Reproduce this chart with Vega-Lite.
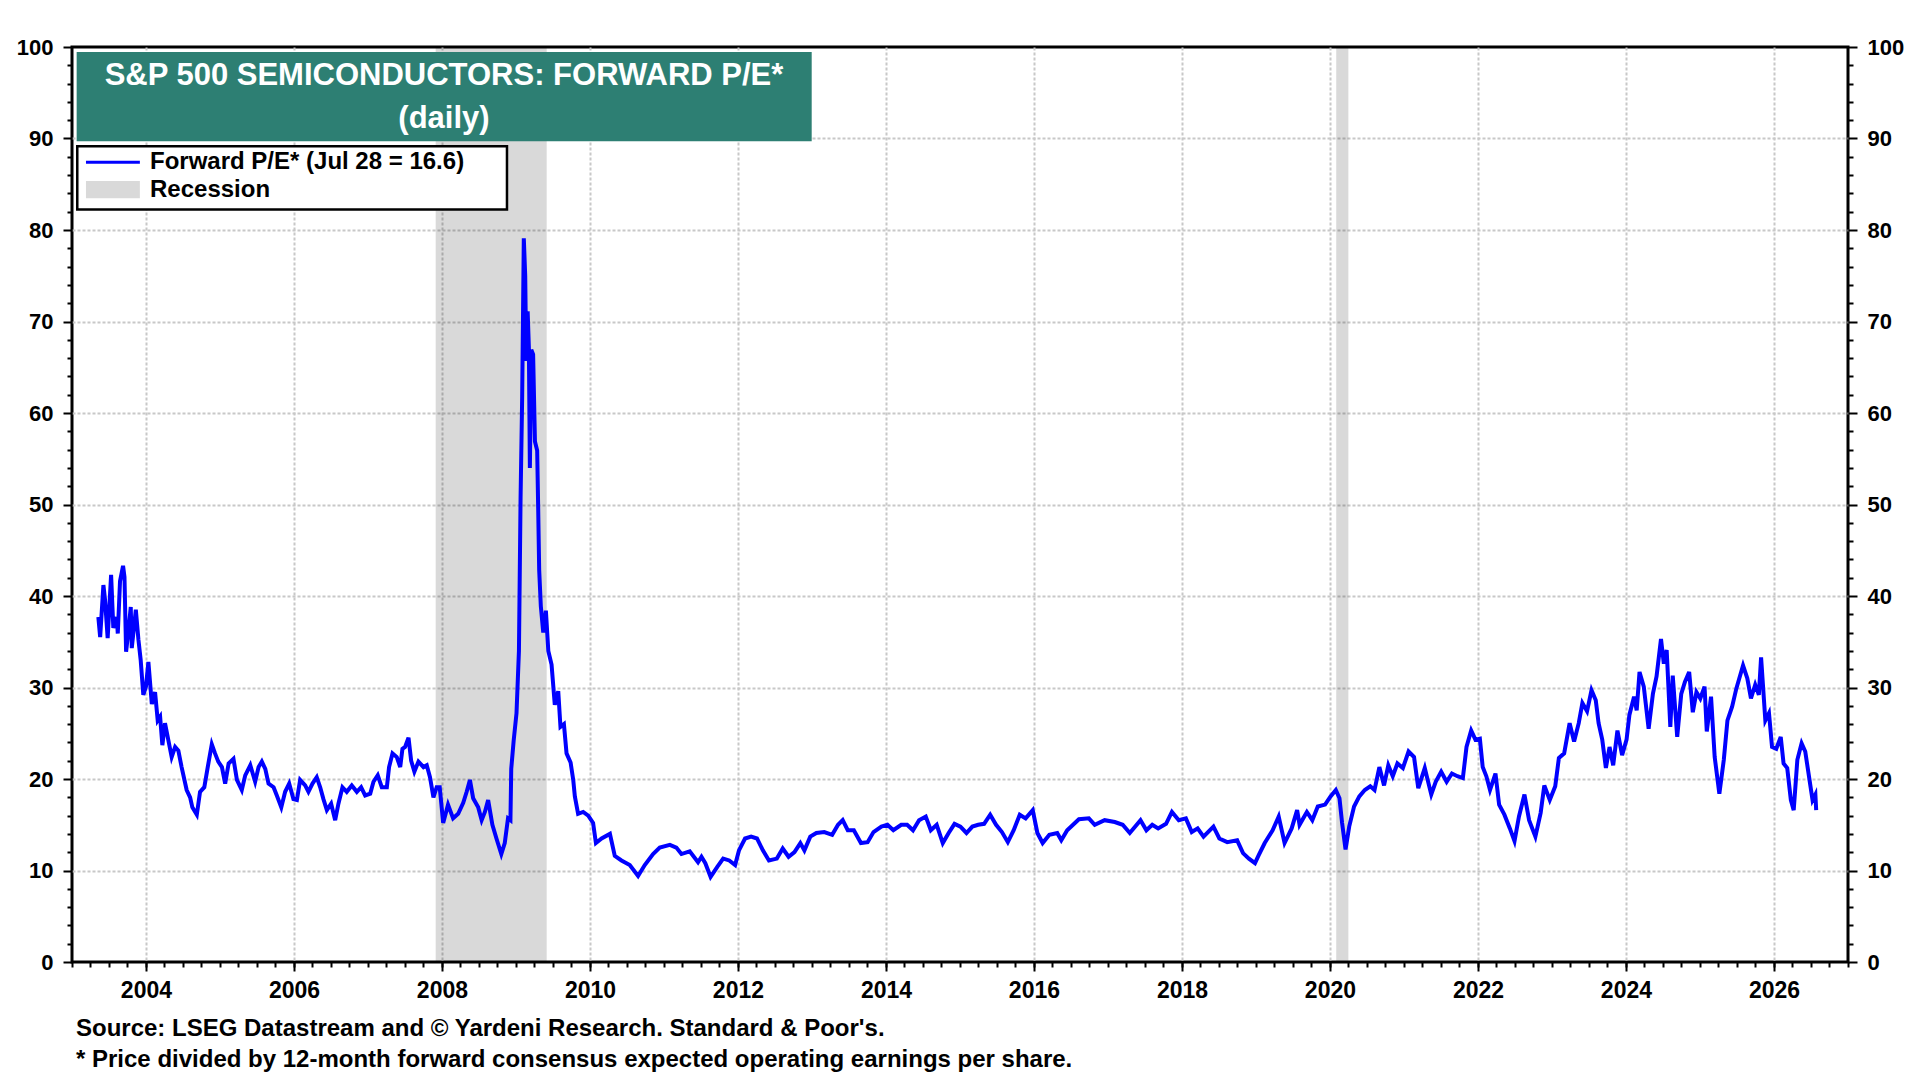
{
  "$schema": "https://vega.github.io/schema/vega-lite/v6.json",
  "width": 1776,
  "height": 915,
  "autosize": {"type": "none"},
  "padding": {"left": 72, "top": 47, "right": 72, "bottom": 118},
  "background": "#FFFFFF",
  "title": {
    "text": ["Source: LSEG Datastream and \u00a9 Yardeni Research. Standard & Poor's.", "* Price divided by 12-month forward consensus expected operating earnings per share."],
    "orient": "bottom", "anchor": "start", "frame": "group",
    "font": "Liberation Sans", "fontSize": 24, "fontWeight": "bold", "color": "#000000",
    "lineHeight": 31, "offset": 15, "dx": 4
  },
  "config": {
    "view": {"stroke": "#000000", "strokeWidth": 3},
    "font": "Liberation Sans"
  },
  "datasets": {
    "pe": [
      {"date":"2003-05-11","pe":37.7},{"date":"2003-05-20","pe":35.5},{"date":"2003-06-05","pe":41.2},{"date":"2003-06-13","pe":39.6},
      {"date":"2003-06-26","pe":35.4},{"date":"2003-07-13","pe":42.3},{"date":"2003-07-24","pe":36.5},{"date":"2003-08-10","pe":37.7},
      {"date":"2003-08-15","pe":35.9},{"date":"2003-08-26","pe":41.6},{"date":"2003-09-10","pe":43.3},{"date":"2003-09-17","pe":42.1},
      {"date":"2003-09-25","pe":33.9},{"date":"2003-10-07","pe":36.3},{"date":"2003-10-18","pe":38.8},{"date":"2003-10-23","pe":34.3},
      {"date":"2003-11-12","pe":38.5},{"date":"2003-11-25","pe":35.2},{"date":"2003-12-06","pe":33.0},{"date":"2003-12-19","pe":29.2},
      {"date":"2004-01-01","pe":30.1},{"date":"2004-01-13","pe":32.8},{"date":"2004-01-30","pe":28.2},{"date":"2004-02-15","pe":29.5},
      {"date":"2004-02-28","pe":26.4},{"date":"2004-03-11","pe":26.8},{"date":"2004-03-22","pe":23.7},{"date":"2004-04-04","pe":26.1},
      {"date":"2004-04-21","pe":24.2},{"date":"2004-05-07","pe":22.4},{"date":"2004-05-24","pe":23.5},{"date":"2004-06-09","pe":23.1},
      {"date":"2004-06-25","pe":21.3},{"date":"2004-07-20","pe":18.8},{"date":"2004-08-06","pe":18.0},{"date":"2004-08-17","pe":16.9},
      {"date":"2004-09-08","pe":16.1},{"date":"2004-09-24","pe":18.6},{"date":"2004-10-15","pe":19.1},{"date":"2004-11-01","pe":21.3},
      {"date":"2004-11-21","pe":23.8},{"date":"2004-12-07","pe":22.8},{"date":"2004-12-23","pe":21.9},{"date":"2005-01-10","pe":21.3},
      {"date":"2005-01-26","pe":19.5},{"date":"2005-02-12","pe":21.7},{"date":"2005-03-08","pe":22.2},{"date":"2005-03-25","pe":19.9},
      {"date":"2005-04-18","pe":18.8},{"date":"2005-05-05","pe":20.4},{"date":"2005-05-30","pe":21.5},{"date":"2005-06-23","pe":19.7},
      {"date":"2005-07-10","pe":21.3},{"date":"2005-07-26","pe":21.9},{"date":"2005-08-12","pe":21.1},{"date":"2005-08-28","pe":19.5},
      {"date":"2005-09-22","pe":19.1},{"date":"2005-10-08","pe":18.2},{"date":"2005-10-30","pe":16.9},{"date":"2005-11-18","pe":18.6},
      {"date":"2005-12-08","pe":19.5},{"date":"2005-12-29","pe":17.8},{"date":"2006-01-15","pe":17.7},{"date":"2006-01-31","pe":19.9},
      {"date":"2006-02-25","pe":19.3},{"date":"2006-03-13","pe":18.6},{"date":"2006-04-02","pe":19.5},{"date":"2006-04-23","pe":20.2},
      {"date":"2006-05-10","pe":19.1},{"date":"2006-05-26","pe":17.8},{"date":"2006-06-12","pe":16.6},{"date":"2006-07-03","pe":17.3},
      {"date":"2006-07-23","pe":15.5},{"date":"2006-08-08","pe":17.3},{"date":"2006-08-28","pe":19.1},{"date":"2006-09-18","pe":18.6},
      {"date":"2006-10-13","pe":19.3},{"date":"2006-11-07","pe":18.6},{"date":"2006-11-28","pe":19.1},{"date":"2006-12-18","pe":18.2},
      {"date":"2007-01-12","pe":18.4},{"date":"2007-01-28","pe":19.7},{"date":"2007-02-18","pe":20.4},{"date":"2007-03-10","pe":19.1},
      {"date":"2007-04-04","pe":19.1},{"date":"2007-04-15","pe":21.3},{"date":"2007-05-02","pe":22.8},{"date":"2007-05-23","pe":22.4},
      {"date":"2007-06-09","pe":21.3},{"date":"2007-06-20","pe":23.3},{"date":"2007-07-03","pe":23.5},{"date":"2007-07-20","pe":24.5},
      {"date":"2007-08-02","pe":22.0},{"date":"2007-08-18","pe":20.8},{"date":"2007-09-07","pe":21.9},{"date":"2007-10-02","pe":21.3},
      {"date":"2007-10-18","pe":21.5},{"date":"2007-11-03","pe":20.2},{"date":"2007-11-20","pe":18.0},{"date":"2007-12-06","pe":19.1},
      {"date":"2007-12-21","pe":19.1},{"date":"2008-01-07","pe":15.2},{"date":"2008-01-31","pe":17.2},{"date":"2008-02-25","pe":15.7},
      {"date":"2008-03-21","pe":16.2},{"date":"2008-04-15","pe":17.4},{"date":"2008-05-02","pe":18.6},{"date":"2008-05-18","pe":19.9},
      {"date":"2008-06-03","pe":17.9},{"date":"2008-06-28","pe":16.9},{"date":"2008-07-15","pe":15.5},{"date":"2008-07-31","pe":16.4},
      {"date":"2008-08-16","pe":17.7},{"date":"2008-09-06","pe":15.0},{"date":"2008-09-26","pe":13.5},{"date":"2008-10-20","pe":11.8},
      {"date":"2008-11-06","pe":13.0},{"date":"2008-11-22","pe":15.7},{"date":"2008-12-04","pe":15.5},{"date":"2008-12-08","pe":21.1},
      {"date":"2008-12-20","pe":24.2},{"date":"2009-01-03","pe":27.2},{"date":"2009-01-15","pe":34.0},{"date":"2009-01-23","pe":50.6},
      {"date":"2009-01-31","pe":61.8},{"date":"2009-02-08","pe":79.1},{"date":"2009-02-15","pe":75.0},{"date":"2009-02-20","pe":65.7},
      {"date":"2009-02-27","pe":71.1},{"date":"2009-03-05","pe":67.2},{"date":"2009-03-10","pe":54.0},{"date":"2009-03-17","pe":66.9},
      {"date":"2009-03-26","pe":66.4},{"date":"2009-04-04","pe":56.9},{"date":"2009-04-15","pe":55.9},{"date":"2009-04-20","pe":49.6},
      {"date":"2009-04-25","pe":42.8},{"date":"2009-05-03","pe":38.9},{"date":"2009-05-15","pe":36.0},{"date":"2009-05-28","pe":38.4},
      {"date":"2009-06-09","pe":34.0},{"date":"2009-06-25","pe":32.5},{"date":"2009-07-11","pe":28.1},{"date":"2009-07-28","pe":29.6},
      {"date":"2009-08-08","pe":25.7},{"date":"2009-08-25","pe":26.0},{"date":"2009-09-07","pe":22.8},{"date":"2009-09-27","pe":21.8},
      {"date":"2009-10-10","pe":19.9},{"date":"2009-10-18","pe":18.1},{"date":"2009-11-03","pe":16.2},{"date":"2009-11-28","pe":16.4},
      {"date":"2009-12-23","pe":16.0},{"date":"2010-01-16","pe":15.2},{"date":"2010-01-30","pe":13.0},{"date":"2010-02-27","pe":13.5},
      {"date":"2010-04-09","pe":14.0},{"date":"2010-05-03","pe":11.6},{"date":"2010-06-05","pe":11.1},{"date":"2010-07-16","pe":10.6},
      {"date":"2010-08-26","pe":9.4},{"date":"2010-09-28","pe":10.6},{"date":"2010-11-08","pe":11.8},{"date":"2010-12-11","pe":12.5},
      {"date":"2011-01-30","pe":12.8},{"date":"2011-03-03","pe":12.5},{"date":"2011-03-28","pe":11.8},{"date":"2011-05-08","pe":12.1},
      {"date":"2011-06-18","pe":10.9},{"date":"2011-07-05","pe":11.5},{"date":"2011-07-24","pe":10.8},{"date":"2011-08-19","pe":9.3},
      {"date":"2011-09-21","pe":10.4},{"date":"2011-10-20","pe":11.3},{"date":"2011-11-19","pe":11.1},{"date":"2011-12-18","pe":10.6},
      {"date":"2012-01-06","pe":12.2},{"date":"2012-02-05","pe":13.5},{"date":"2012-03-06","pe":13.7},{"date":"2012-04-04","pe":13.5},
      {"date":"2012-05-03","pe":12.2},{"date":"2012-06-02","pe":11.1},{"date":"2012-07-11","pe":11.3},{"date":"2012-08-09","pe":12.4},
      {"date":"2012-09-07","pe":11.5},{"date":"2012-10-06","pe":12.0},{"date":"2012-11-04","pe":13.0},{"date":"2012-11-24","pe":12.2},
      {"date":"2012-12-23","pe":13.7},{"date":"2013-01-22","pe":14.1},{"date":"2013-03-02","pe":14.2},{"date":"2013-04-10","pe":13.9},
      {"date":"2013-05-09","pe":15.0},{"date":"2013-06-01","pe":15.5},{"date":"2013-06-26","pe":14.4},{"date":"2013-07-26","pe":14.4},
      {"date":"2013-08-30","pe":13.0},{"date":"2013-10-02","pe":13.1},{"date":"2013-10-31","pe":14.2},{"date":"2013-12-09","pe":14.8},
      {"date":"2014-01-08","pe":15.0},{"date":"2014-02-06","pe":14.4},{"date":"2014-03-17","pe":15.0},{"date":"2014-04-15","pe":15.0},
      {"date":"2014-05-14","pe":14.4},{"date":"2014-06-13","pe":15.5},{"date":"2014-07-16","pe":15.9},{"date":"2014-08-10","pe":14.4},
      {"date":"2014-09-08","pe":15.0},{"date":"2014-10-08","pe":13.0},{"date":"2014-11-06","pe":14.1},{"date":"2014-12-05","pe":15.1},
      {"date":"2015-01-03","pe":14.8},{"date":"2015-02-02","pe":14.1},{"date":"2015-03-03","pe":14.8},{"date":"2015-04-01","pe":15.0},
      {"date":"2015-04-30","pe":15.1},{"date":"2015-05-30","pe":16.1},{"date":"2015-06-28","pe":15.0},{"date":"2015-07-27","pe":14.2},
      {"date":"2015-08-25","pe":13.1},{"date":"2015-09-23","pe":14.4},{"date":"2015-10-23","pe":16.1},{"date":"2015-11-21","pe":15.7},
      {"date":"2015-12-26","pe":16.6},{"date":"2016-01-18","pe":14.1},{"date":"2016-02-13","pe":13.0},{"date":"2016-03-17","pe":13.9},
      {"date":"2016-04-25","pe":14.1},{"date":"2016-05-15","pe":13.3},{"date":"2016-06-13","pe":14.4},{"date":"2016-07-12","pe":15.0},
      {"date":"2016-08-10","pe":15.6},{"date":"2016-09-28","pe":15.7},{"date":"2016-10-27","pe":15.0},{"date":"2016-12-15","pe":15.5},
      {"date":"2017-02-03","pe":15.3},{"date":"2017-03-14","pe":15.0},{"date":"2017-04-18","pe":14.1},{"date":"2017-06-10","pe":15.5},
      {"date":"2017-07-09","pe":14.4},{"date":"2017-08-07","pe":15.0},{"date":"2017-09-05","pe":14.6},{"date":"2017-10-14","pe":15.1},
      {"date":"2017-11-12","pe":16.4},{"date":"2017-12-16","pe":15.5},{"date":"2018-01-20","pe":15.7},{"date":"2018-02-18","pe":14.2},
      {"date":"2018-03-19","pe":14.6},{"date":"2018-04-17","pe":13.7},{"date":"2018-06-05","pe":14.8},{"date":"2018-07-04","pe":13.5},
      {"date":"2018-08-12","pe":13.1},{"date":"2018-09-30","pe":13.3},{"date":"2018-10-29","pe":11.9},{"date":"2018-11-27","pe":11.3},
      {"date":"2018-12-27","pe":10.8},{"date":"2019-01-15","pe":11.7},{"date":"2019-02-13","pe":13.0},{"date":"2019-03-24","pe":14.4},
      {"date":"2019-04-23","pe":15.9},{"date":"2019-05-22","pe":13.0},{"date":"2019-06-26","pe":14.6},{"date":"2019-07-23","pe":16.6},
      {"date":"2019-08-04","pe":15.0},{"date":"2019-09-09","pe":16.4},{"date":"2019-10-06","pe":15.5},{"date":"2019-11-02","pe":17.0},
      {"date":"2019-12-08","pe":17.2},{"date":"2020-01-04","pe":18.1},{"date":"2020-01-30","pe":18.8},{"date":"2020-02-17","pe":17.9},
      {"date":"2020-03-01","pe":15.2},{"date":"2020-03-18","pe":12.3},{"date":"2020-04-05","pe":14.8},{"date":"2020-04-29","pe":17.0},
      {"date":"2020-05-25","pe":18.1},{"date":"2020-06-21","pe":18.8},{"date":"2020-07-18","pe":19.2},{"date":"2020-08-08","pe":18.8},
      {"date":"2020-09-01","pe":21.3},{"date":"2020-09-24","pe":19.3},{"date":"2020-10-15","pe":21.5},{"date":"2020-11-06","pe":20.3},
      {"date":"2020-11-29","pe":21.7},{"date":"2020-12-26","pe":21.2},{"date":"2021-01-23","pe":23.0},{"date":"2021-02-19","pe":22.4},
      {"date":"2021-03-12","pe":19.0},{"date":"2021-04-13","pe":21.2},{"date":"2021-05-15","pe":18.3},{"date":"2021-06-06","pe":19.7},
      {"date":"2021-07-03","pe":20.8},{"date":"2021-07-30","pe":19.7},{"date":"2021-08-25","pe":20.6},{"date":"2021-09-21","pe":20.3},
      {"date":"2021-10-18","pe":20.1},{"date":"2021-11-05","pe":23.5},{"date":"2021-11-28","pe":25.3},{"date":"2021-12-19","pe":24.3},
      {"date":"2022-01-10","pe":24.4},{"date":"2022-01-24","pe":21.3},{"date":"2022-02-11","pe":20.3},{"date":"2022-03-01","pe":18.8},
      {"date":"2022-03-28","pe":20.6},{"date":"2022-04-15","pe":17.2},{"date":"2022-05-11","pe":16.1},{"date":"2022-06-07","pe":14.6},
      {"date":"2022-06-30","pe":13.2},{"date":"2022-07-22","pe":15.9},{"date":"2022-08-18","pe":18.3},{"date":"2022-09-10","pe":15.5},
      {"date":"2022-10-11","pe":13.7},{"date":"2022-11-06","pe":16.3},{"date":"2022-11-24","pe":19.3},{"date":"2022-12-21","pe":17.7},
      {"date":"2023-01-17","pe":19.2},{"date":"2023-02-04","pe":22.3},{"date":"2023-03-02","pe":22.8},{"date":"2023-03-29","pe":26.1},
      {"date":"2023-04-20","pe":24.1},{"date":"2023-05-13","pe":26.1},{"date":"2023-05-31","pe":28.3},{"date":"2023-06-23","pe":27.4},
      {"date":"2023-07-15","pe":29.7},{"date":"2023-08-05","pe":28.6},{"date":"2023-08-19","pe":26.1},{"date":"2023-09-06","pe":24.3},
      {"date":"2023-09-24","pe":21.2},{"date":"2023-10-12","pe":23.5},{"date":"2023-10-30","pe":21.5},{"date":"2023-11-20","pe":25.3},
      {"date":"2023-12-13","pe":22.6},{"date":"2024-01-04","pe":24.3},{"date":"2024-01-18","pe":27.0},{"date":"2024-02-10","pe":29.0},
      {"date":"2024-02-23","pe":27.5},{"date":"2024-03-08","pe":31.7},{"date":"2024-03-29","pe":30.1},{"date":"2024-04-22","pe":25.5},
      {"date":"2024-05-13","pe":29.3},{"date":"2024-05-31","pe":31.2},{"date":"2024-06-22","pe":35.3},{"date":"2024-07-06","pe":32.6},
      {"date":"2024-07-20","pe":34.1},{"date":"2024-08-07","pe":25.7},{"date":"2024-08-19","pe":31.3},{"date":"2024-09-10","pe":24.6},
      {"date":"2024-09-30","pe":29.3},{"date":"2024-10-18","pe":30.6},{"date":"2024-11-08","pe":31.7},{"date":"2024-11-26","pe":27.3},
      {"date":"2024-12-14","pe":29.5},{"date":"2025-01-02","pe":28.8},{"date":"2025-01-23","pe":30.1},{"date":"2025-02-03","pe":25.2},
      {"date":"2025-02-24","pe":29.0},{"date":"2025-03-14","pe":22.4},{"date":"2025-04-06","pe":18.4},{"date":"2025-04-28","pe":22.1},
      {"date":"2025-05-16","pe":26.4},{"date":"2025-06-08","pe":27.9},{"date":"2025-06-29","pe":29.9},{"date":"2025-08-01","pe":32.4},
      {"date":"2025-08-22","pe":31.0},{"date":"2025-09-09","pe":28.8},{"date":"2025-09-30","pe":30.3},{"date":"2025-10-18","pe":29.2},
      {"date":"2025-10-29","pe":33.3},{"date":"2025-11-19","pe":26.4},{"date":"2025-12-07","pe":27.2},{"date":"2025-12-22","pe":23.5},
      {"date":"2026-01-12","pe":23.3},{"date":"2026-02-03","pe":24.6},{"date":"2026-02-17","pe":21.7},{"date":"2026-03-07","pe":21.2},
      {"date":"2026-03-25","pe":17.7},{"date":"2026-04-08","pe":16.6},{"date":"2026-04-26","pe":22.1},{"date":"2026-05-17","pe":23.9},
      {"date":"2026-06-04","pe":23.0},{"date":"2026-06-25","pe":19.9},{"date":"2026-07-10","pe":17.7},{"date":"2026-07-24","pe":18.3},
      {"date":"2026-07-28","pe":16.6}
    ],
    "recession": [
      {"start":"2007-12-01","end":"2009-06-01"},
      {"start":"2020-02-01","end":"2020-04-01"}
    ],
    "one": [{}]
  },
  "resolve": {"axis": {"x": "independent", "y": "independent"}},
  "layer": [
    {
      "data": {"name": "recession"},
      "mark": {"type": "rect", "color": "#000000", "opacity": 0.15},
      "encoding": {
        "x": {
          "field": "start", "type": "temporal", "title": null,
          "axis": {
            "orient": "bottom", "title": null, "domain": false, "grid": false, "labels": false,
            "tickCount": {"interval": "month", "step": 3},
            "ticks": true, "tickColor": "#000000", "tickWidth": 2, "tickSize": 5
          }
        },
        "x2": {"field": "end"}
      }
    },
    {
      "data": {"name": "pe"},
      "mark": {"type": "line", "color": "#0000FF", "strokeWidth": 4},
      "encoding": {
        "x": {
          "field": "date", "type": "temporal", "title": null,
          "scale": {"type": "utc", "domain": [{"year": 2003, "month": 1, "date": 1, "utc": true}, {"year": 2027, "month": 1, "date": 1, "utc": true}]},
          "axis": {
            "orient": "bottom", "title": null, "domain": false,
            "tickCount": {"interval": "year", "step": 2},
            "format": "%Y",
            "grid": true, "gridColor": "#C8C8C8", "gridDash": [3, 2], "gridWidth": 2,
            "ticks": true, "tickColor": "#000000", "tickWidth": 2, "tickSize": 9,
            "labelFont": "Liberation Sans", "labelFontSize": 23, "labelFontWeight": "bold", "labelColor": "#000000",
            "labelPadding": 8, "labelOverlap": false, "labelFlush": false, "labelBound": false, "labelAngle": 0
          }
        },
        "y": {
          "field": "pe", "type": "quantitative", "title": null,
          "scale": {"domain": [0, 100], "nice": false, "zero": true},
          "axis": {
            "orient": "left", "title": null, "domain": false, "tickCount": 50,
            "grid": true, "gridColor": "#C8C8C8", "gridDash": [3, 2], "gridWidth": 2,
            "gridOpacity": {"condition": {"test": "datum.value % 10 === 0 && datum.value > 0 && datum.value < 100", "value": 1}, "value": 0},
            "ticks": true, "tickColor": "#000000", "tickWidth": 2,
            "tickSize": {"condition": {"test": "datum.value % 10 === 0", "value": 9}, "value": 5},
            "labelExpr": "datum.value % 10 === 0 ? datum.label : ''",
            "labelFont": "Liberation Sans", "labelFontSize": 22, "labelFontWeight": "bold", "labelColor": "#000000",
            "labelPadding": 10, "labelOverlap": false, "labelFlush": false, "labelBound": false
          }
        }
      }
    },
    {
      "data": {"name": "one"},
      "mark": {"type": "rect", "color": "#2D7F73"},
      "encoding": {
        "x": {"datum": {"year": 2003, "month": 1, "date": 24, "utc": true}, "type": "temporal", "axis": null},
        "x2": {"datum": {"year": 2012, "month": 12, "date": 30, "utc": true}},
        "y": {
          "datum": 99.45, "type": "quantitative", "title": null,
          "axis": {
            "orient": "right", "title": null, "domain": false, "tickCount": 50, "grid": false,
            "ticks": true, "tickColor": "#000000", "tickWidth": 2,
            "tickSize": {"condition": {"test": "datum.value % 10 === 0", "value": 9}, "value": 5},
            "labelExpr": "datum.value % 10 === 0 ? datum.label : ''",
            "labelFont": "Liberation Sans", "labelFontSize": 22, "labelFontWeight": "bold", "labelColor": "#000000",
            "labelPadding": 10, "labelOverlap": false, "labelFlush": false, "labelBound": false
          }
        },
        "y2": {"datum": 89.69}
      }
    },
    {
      "data": {"name": "one"},
      "mark": {"type": "text", "color": "#FFFFFF", "font": "Liberation Sans", "fontSize": 31, "fontWeight": "bold", "align": "center", "baseline": "alphabetic", "text": "S&P 500 SEMICONDUCTORS: FORWARD P/E*"},
      "encoding": {
        "x": {"datum": {"year": 2008, "month": 1, "date": 11, "utc": true}, "type": "temporal", "axis": null},
        "y": {"datum": 95.81, "type": "quantitative", "axis": null}
      }
    },
    {
      "data": {"name": "one"},
      "mark": {"type": "text", "color": "#FFFFFF", "font": "Liberation Sans", "fontSize": 31, "fontWeight": "bold", "align": "center", "baseline": "alphabetic", "text": "(daily)"},
      "encoding": {
        "x": {"datum": {"year": 2008, "month": 1, "date": 11, "utc": true}, "type": "temporal", "axis": null},
        "y": {"datum": 91.2, "type": "quantitative", "axis": null}
      }
    },
    {
      "data": {"name": "one"},
      "mark": {"type": "rect", "fill": "#FFFFFF", "stroke": "#000000", "strokeWidth": 2.5},
      "encoding": {
        "x": {"datum": {"year": 2003, "month": 1, "date": 27, "utc": true}, "type": "temporal", "axis": null},
        "x2": {"datum": {"year": 2008, "month": 11, "date": 17, "utc": true}},
        "y": {"datum": 89.15, "type": "quantitative", "axis": null},
        "y2": {"datum": 82.23}
      }
    },
    {
      "data": {"name": "one"},
      "mark": {"type": "rule", "color": "#0000FF", "strokeWidth": 3},
      "encoding": {
        "x": {"datum": {"year": 2003, "month": 3, "date": 11, "utc": true}, "type": "temporal", "axis": null},
        "x2": {"datum": {"year": 2003, "month": 12, "date": 2, "utc": true}},
        "y": {"datum": 87.4, "type": "quantitative", "axis": null}
      }
    },
    {
      "data": {"name": "one"},
      "mark": {"type": "rect", "color": "#D9D9D9"},
      "encoding": {
        "x": {"datum": {"year": 2003, "month": 3, "date": 11, "utc": true}, "type": "temporal", "axis": null},
        "x2": {"datum": {"year": 2003, "month": 12, "date": 2, "utc": true}},
        "y": {"datum": 85.36, "type": "quantitative", "axis": null},
        "y2": {"datum": 83.46}
      }
    },
    {
      "data": {"name": "one"},
      "mark": {"type": "text", "color": "#000000", "font": "Liberation Sans", "fontSize": 24, "fontWeight": "bold", "align": "left", "baseline": "alphabetic", "text": "Forward P/E* (Jul 28 = 16.6)"},
      "encoding": {
        "x": {"datum": {"year": 2004, "month": 1, "date": 21, "utc": true}, "type": "temporal", "axis": null},
        "y": {"datum": 86.63, "type": "quantitative", "axis": null}
      }
    },
    {
      "data": {"name": "one"},
      "mark": {"type": "text", "color": "#000000", "font": "Liberation Sans", "fontSize": 24, "fontWeight": "bold", "align": "left", "baseline": "alphabetic", "text": "Recession"},
      "encoding": {
        "x": {"datum": {"year": 2004, "month": 1, "date": 21, "utc": true}, "type": "temporal", "axis": null},
        "y": {"datum": 83.58, "type": "quantitative", "axis": null}
      }
    }
  ]
}
